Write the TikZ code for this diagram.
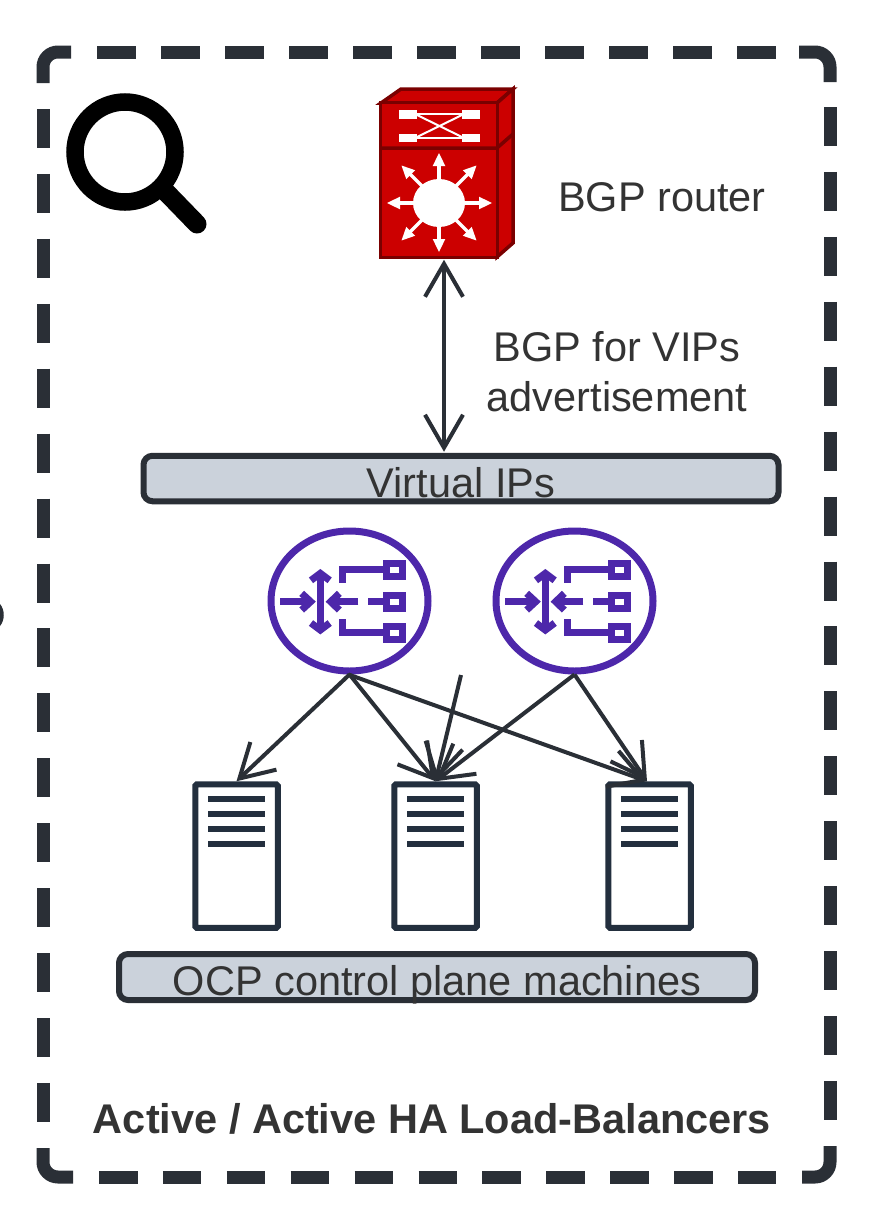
\documentclass[tikz,border=0pt]{standalone}
\usepackage{fontspec}
\setmainfont{Liberation Sans}
\usetikzlibrary{arrows.meta,shapes.geometric}
\definecolor{ink}{HTML}{2A2F36}
\definecolor{txt}{HTML}{333333}
\definecolor{navy}{HTML}{232F3E}
\definecolor{boxfill}{HTML}{CBD2DB}
\definecolor{lbpurple}{HTML}{4D27AA}
\definecolor{rred}{HTML}{CC0000}
\definecolor{rdark}{HTML}{7A0000}
\tikzset{
  frameline/.style={draw=ink,line width=13pt,line cap=butt},
  barbtip/.style={-{Straight Barb[length=33pt,width=38pt,line width=4pt]}},
  wire/.style={draw=ink,line width=4pt,barbtip},
  band/.style={draw=ink,fill=boxfill,line width=6pt,rounded corners=9pt,inner sep=0pt},
  bandtext/.style={text=txt,font=\fontsize{41.5}{41.5}\selectfont,anchor=base,inner sep=0pt},
  server/.style={draw=navy,fill=white,line width=6pt,rounded corners=1.5pt,minimum width=82.5pt,minimum height=143.5pt,inner sep=0pt},
  srvline/.style={draw=navy,line width=6.3pt},
  lbnode/.style={ellipse,draw=lbpurple,fill=white,line width=7pt,minimum width=157pt,minimum height=140pt,inner sep=0pt},
  lbstroke/.style={draw=lbpurple,line width=7pt,line join=miter},
  routerface/.style={draw=rdark,fill=rred,line width=3.5pt,line join=miter},
}
\newcommand{\srvlines}[1]{%
  \foreach \yy in {799,814,829,844}{\draw[srvline] (#1-28.5,\yy) -- (#1+28.5,\yy);}}
\newcommand{\lbglyph}[1]{%
  \begin{scope}[shift={(#1,520)},x=0.33333pt,y=-0.33333pt]
    \draw[lbstroke] (60,245) -- (150,245);
    \draw[lbstroke] (125,220) -- (152,245) -- (125,270);
    \draw[lbstroke] (181,160) -- (181,330);
    \draw[lbstroke] (153,181) -- (181,160) -- (209,181);
    \draw[lbstroke] (153,309) -- (181,330) -- (209,309);
    \draw[lbstroke] (295,245) -- (215,245);
    \draw[lbstroke] (238,220) -- (212,245) -- (238,270);
    \draw[lbstroke] (247,188) -- (247,148) -- (375,148);
    \draw[lbstroke] (247,298) -- (247,338) -- (375,338);
    \draw[lbstroke] (325,245) -- (375,245);
    \foreach \yy in {149,245,338}{
      \draw[lbstroke,fill=white] (380,\yy-20) rectangle (426,\yy+20);}
  \end{scope}}
\newcommand{\rarrow}[2]{%
  \begin{scope}[shift={(439,203)},rotate=#1]
    \draw[draw=white,line width=3.3pt] (20,0) -- (#2-9,0);
    \fill[white] (#2,0) -- (#2-13,6.3) -- (#2-13,-6.3) -- cycle;
  \end{scope}}
\begin{document}
\begin{tikzpicture}[x=1pt,y=-1pt]
\useasboundingbox (0,0) rectangle (868,1221);
\fill[white] (0,0) rectangle (868,1221);
% stub at the left edge
\fill[ink] (0,604) .. controls (5,610) and (5,620) .. (0,626) -- cycle;
% frame
\draw[frameline,rounded corners=15pt] (43,83) -- (43,52) -- (71,52);
\draw[frameline,rounded corners=15pt] (799,52) -- (830,52) -- (830,82);
\draw[frameline,rounded corners=15pt] (830,1146) -- (830,1177) -- (802,1177);
\draw[frameline,rounded corners=15pt] (73,1177) -- (43,1177) -- (43,1148);
\draw[frameline,dash pattern=on 38.5pt off 25.5pt] (97,52) -- (775.5,52);
\draw[frameline,dash pattern=on 38.5pt off 25.4pt] (99,1177) -- (776,1177);
\draw[frameline,dash pattern=on 39pt off 25.93pt] (43,109) -- (43,1122);
\draw[frameline,dash pattern=on 39pt off 25.93pt] (830,107) -- (830,1120);
% magnifier
\draw[black,line width=17.5pt] (125,152) circle (50);
\draw[black,line width=19pt,line cap=round] (165,191) -- (197,224);
% router
\draw[routerface] (381,103) -- (401,89) -- (513,89) -- (497,103) -- cycle;
\draw[routerface] (497,103) -- (513,89) -- (513,243) -- (497,257) -- cycle;
\node[routerface,rectangle,minimum width=117pt,minimum height=155pt,inner sep=0pt] (router) at (439,180) {};
\draw[rdark,line width=3.5pt] (381,148) -- (497,148) -- (513,134);
\fill[white] (399,110) rectangle (417,118.5);
\fill[white] (399,133.5) rectangle (417,142);
\fill[white] (462,110) rectangle (480,118.5);
\fill[white] (462,133.5) rectangle (480,142);
\draw[white,line width=2pt] (417,113.5) -- (462,113.5);
\draw[white,line width=2pt] (417,138) -- (462,138);
\draw[white,line width=2pt] (417,115) -- (462,137);
\draw[white,line width=2pt] (417,137) -- (462,115);
\fill[white] (439,203) ellipse (26 and 24);
\foreach \aa/\dd in {0/53,180/52,90/50,270/49,45/53,135/53,225/53,315/53}{\rarrow{\aa}{\dd}}
% labels
\node[bandtext] (lblrouter) at (662,211) {BGP router};
\node[bandtext] (lbladv1) at (617,361) {BGP for VIPs};
\node[bandtext] (lbladv2) at (617,411) {advertisement};
% bands
\node[band,minimum width=635pt,minimum height=45.5pt] (vips) at (461,478.5) {};
\node[bandtext] (lblvips) at (461,497) {Virtual IPs};
\node[band,minimum width=636pt,minimum height=46pt] (ocp) at (437,977) {};
\node[bandtext] (lblocp) at (437,995) {OCP control plane machines};
\node[text=txt,font=\bfseries\fontsize{41.5}{41.5}\selectfont,anchor=base,inner sep=0pt] (title) at (432,1133) {Active / Active HA Load-Balancers};
% load balancers
\node[lbnode] (lb1) at (349.5,601) {};
\node[lbnode] (lb2) at (574.5,601) {};
\lbglyph{260}
\lbglyph{485}
% servers
\node[server] (s1) at (236.5,856) {};
\node[server] (s2) at (435.5,856) {};
\node[server] (s3) at (649.5,856) {};
\srvlines{236.5}
\srvlines{435.5}
\srvlines{649.5}
% connectors
\coordinate (bgpx) at (444,0);
\coordinate (freeend) at (461,675);
\draw[draw=ink,line width=4pt,{Straight Barb[length=33pt,width=38pt,line width=4pt]}-{Straight Barb[length=33pt,width=38pt,line width=4pt]},shorten <=0.5pt,shorten >=1pt] (bgpx |- router.south) -- (bgpx |- vips.north);
\draw[wire] (lb1.south) -- (s1.north);
\draw[wire] (lb1.south) -- (s2.north);
\draw[wire] ([xshift=-1pt]lb1.south) -- ([xshift=-2.5pt]s3.north);
\draw[wire] (freeend) -- (s2.north);
\draw[wire] (lb2.south) -- (s2.north);
\draw[wire] (lb2.south) -- ([xshift=-2.5pt]s3.north);
\end{tikzpicture}
\end{document}
